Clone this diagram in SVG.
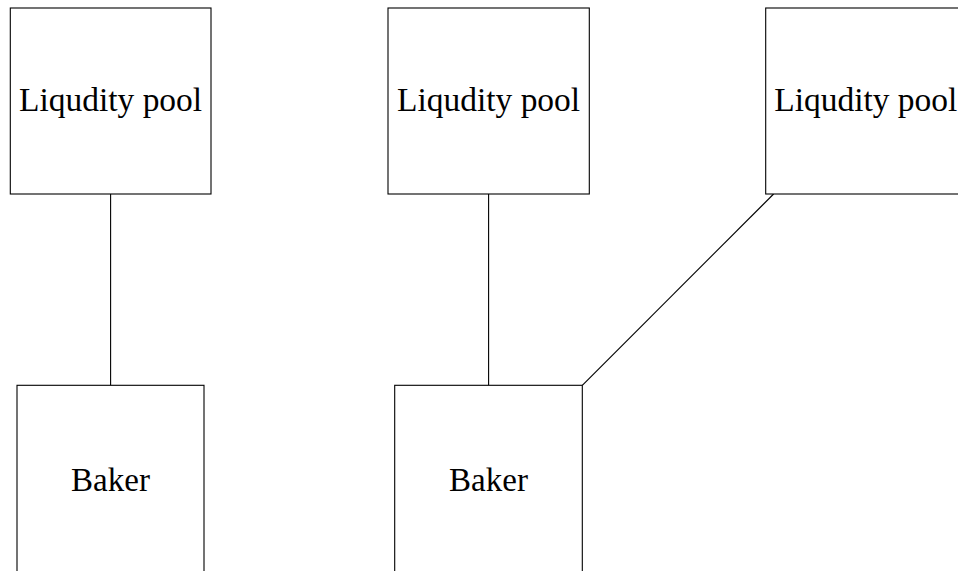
<svg xmlns="http://www.w3.org/2000/svg" width="958" height="571" viewBox="0 0 958 571">
<style>
.box{fill:#fff;stroke:#000;stroke-width:1.1}
.lbl{font-family:"Liberation Serif","DejaVu Serif",serif;font-size:33px;fill:#000;text-anchor:middle}
.edge{stroke:#000;stroke-width:1.1;fill:none}
</style>
<rect width="958" height="571" fill="#fff"/>
<g id="edges">
<line class="edge" x1="110.6" y1="194" x2="110.6" y2="385.3"/>
<line class="edge" x1="488.6" y1="194" x2="488.6" y2="385.3"/>
<line class="edge" x1="582.3" y1="385.3" x2="773.6" y2="194"/>
</g>
<g id="pool1">
<rect class="box" x="10.3" y="8" width="200.7" height="186"/>
<text class="lbl" x="110.6" y="111" textLength="183" lengthAdjust="spacingAndGlyphs">Liqudity pool</text>
</g>
<g id="pool2">
<rect class="box" x="388" y="8" width="201.3" height="186"/>
<text class="lbl" x="488.6" y="111" textLength="183" lengthAdjust="spacingAndGlyphs">Liqudity pool</text>
</g>
<g id="pool3">
<rect class="box" x="765.7" y="8" width="201" height="186"/>
<text class="lbl" x="865.8" y="111" textLength="183" lengthAdjust="spacingAndGlyphs">Liqudity pool</text>
</g>
<g id="baker1">
<rect class="box" x="17" y="385.3" width="187" height="200"/>
<text class="lbl" x="110.5" y="490.7">Baker</text>
</g>
<g id="baker2">
<rect class="box" x="394.7" y="385.3" width="187.6" height="200"/>
<text class="lbl" x="488.5" y="490.7">Baker</text>
</g>
</svg>
